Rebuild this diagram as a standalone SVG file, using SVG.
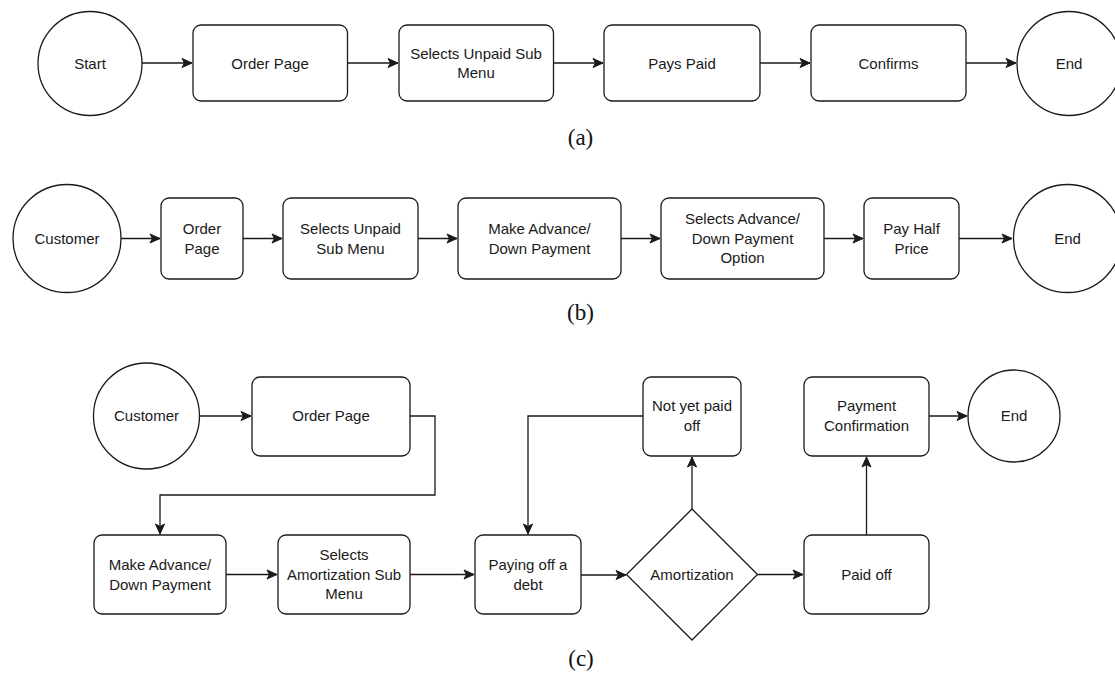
<svg xmlns="http://www.w3.org/2000/svg" width="1115" height="673" viewBox="0 0 1115 673">
<style>
  .n { fill: #fff; stroke: #1a1a1a; stroke-width: 1.3; }
  .t { font-family: "Liberation Sans", Arial, sans-serif; font-size: 15px; fill: #1a1a1a; text-anchor: middle; }
  .c { fill: none; stroke: #1a1a1a; stroke-width: 1.3; marker-end: url(#ar); }
  .lab { font-family: "Liberation Serif", "Times New Roman", serif; font-size: 23px; fill: #111; text-anchor: middle; }
</style>
<defs>
  <marker id="ar" viewBox="0 0 12 11" markerWidth="12" markerHeight="11" refX="11" refY="5.5" orient="auto" markerUnits="userSpaceOnUse">
    <path d="M1,1 L11,5.5 L1,10 L3.5,5.5 z" fill="#1a1a1a" stroke="#1a1a1a" stroke-width="1"/>
  </marker>
</defs>
<rect width="1115" height="673" fill="#fff"/>

<g id="connectors">
  <!-- (a) -->
  <path class="c" d="M142,63 H192"/>
  <path class="c" d="M347.5,63 H398"/>
  <path class="c" d="M553.5,63 H603"/>
  <path class="c" d="M760,63 H810"/>
  <path class="c" d="M966,63 H1016"/>
  <!-- (b) -->
  <path class="c" d="M121,238.5 H160"/>
  <path class="c" d="M243,238.5 H282"/>
  <path class="c" d="M418,238.5 H457"/>
  <path class="c" d="M621,238.5 H660"/>
  <path class="c" d="M824,238.5 H863"/>
  <path class="c" d="M959,238.5 H1012"/>
  <!-- (c) -->
  <path class="c" d="M199.5,416 H251"/>
  <path class="c" d="M410,416 H435 V495 H160 V534"/>
  <path class="c" d="M226,574.5 H277"/>
  <path class="c" d="M410,574.5 H474"/>
  <path class="c" d="M581,575 H626"/>
  <path class="c" d="M757.5,574.5 H803"/>
  <path class="c" d="M866.5,535 V457"/>
  <path class="c" d="M692,509 V457"/>
  <path class="c" d="M643,416 H528 V534"/>
  <path class="c" d="M929,416 H967"/>
</g>

<!-- Row (a) -->
<g id="a-start"><circle class="n" cx="90" cy="63.5" r="52"/><text class="t" x="90" y="68.5">Start</text></g>
<g id="a-order"><rect class="n" x="193" y="25" width="154.5" height="76" rx="8"/><text class="t" x="270" y="68.5">Order Page</text></g>
<g id="a-selects"><rect class="n" x="399" y="25" width="154.5" height="76" rx="8"/><text class="t" x="476" y="58.5">Selects Unpaid Sub</text><text class="t" x="476" y="78">Menu</text></g>
<g id="a-pays"><rect class="n" x="604" y="25" width="156" height="76" rx="8"/><text class="t" x="682" y="68.5">Pays Paid</text></g>
<g id="a-confirms"><rect class="n" x="811" y="25" width="155" height="76" rx="8"/><text class="t" x="888.5" y="68.5">Confirms</text></g>
<g id="a-end"><circle class="n" cx="1069" cy="63.5" r="52"/><text class="t" x="1069" y="68.5">End</text></g>
<text class="lab" x="580.5" y="145">(a)</text>

<!-- Row (b) -->
<g id="b-customer"><circle class="n" cx="67" cy="238.5" r="54"/><text class="t" x="67" y="243.5">Customer</text></g>
<g id="b-order"><rect class="n" x="161" y="198" width="82" height="81" rx="8"/><text class="t" x="202" y="233.5">Order</text><text class="t" x="202" y="254">Page</text></g>
<g id="b-selects"><rect class="n" x="283" y="198" width="135" height="81" rx="8"/><text class="t" x="350.5" y="233.5">Selects Unpaid</text><text class="t" x="350.5" y="254">Sub Menu</text></g>
<g id="b-make"><rect class="n" x="458" y="198" width="163" height="81" rx="8"/><text class="t" x="539.5" y="233.5">Make Advance/</text><text class="t" x="539.5" y="254">Down Payment</text></g>
<g id="b-option"><rect class="n" x="661" y="198" width="163" height="81" rx="8"/><text class="t" x="742.5" y="224">Selects Advance/</text><text class="t" x="742.5" y="243.5">Down Payment</text><text class="t" x="742.5" y="263">Option</text></g>
<g id="b-half"><rect class="n" x="864" y="198" width="95" height="81" rx="8"/><text class="t" x="911.5" y="233.5">Pay Half</text><text class="t" x="911.5" y="254">Price</text></g>
<g id="b-end"><circle class="n" cx="1067.5" cy="238.5" r="54"/><text class="t" x="1067.5" y="243.5">End</text></g>
<text class="lab" x="580.5" y="320">(b)</text>

<!-- Row (c) -->
<g id="c-customer"><circle class="n" cx="146.5" cy="416" r="53"/><text class="t" x="146.5" y="421">Customer</text></g>
<g id="c-order"><rect class="n" x="252" y="377" width="158" height="79" rx="8"/><text class="t" x="331" y="421">Order Page</text></g>
<g id="c-make"><rect class="n" x="94" y="535" width="132" height="79" rx="8"/><text class="t" x="160" y="570">Make Advance/</text><text class="t" x="160" y="589.5">Down Payment</text></g>
<g id="c-selects"><rect class="n" x="278" y="535" width="132" height="79" rx="8"/><text class="t" x="344" y="560">Selects</text><text class="t" x="344" y="579.5">Amortization Sub</text><text class="t" x="344" y="598.5">Menu</text></g>
<g id="c-paying"><rect class="n" x="475" y="535" width="106" height="79" rx="8"/><text class="t" x="528" y="570">Paying off a</text><text class="t" x="528" y="589.5">debt</text></g>
<g id="c-amort"><polygon class="n" points="692,509 757.5,574.5 692,640 626.5,574.5"/><text class="t" x="692" y="579.5">Amortization</text></g>
<g id="c-notyet"><rect class="n" x="643" y="377" width="98" height="79" rx="8"/><text class="t" x="692" y="411">Not yet paid</text><text class="t" x="692" y="431">off</text></g>
<g id="c-paidoff"><rect class="n" x="804" y="535" width="125" height="79" rx="8"/><text class="t" x="866.5" y="579.5">Paid off</text></g>
<g id="c-confirm"><rect class="n" x="804" y="377" width="125" height="79" rx="8"/><text class="t" x="866.5" y="411">Payment</text><text class="t" x="866.5" y="431">Confirmation</text></g>
<g id="c-end"><circle class="n" cx="1014" cy="416" r="46"/><text class="t" x="1014" y="421">End</text></g>
<text class="lab" x="581" y="666">(c)</text>
</svg>
